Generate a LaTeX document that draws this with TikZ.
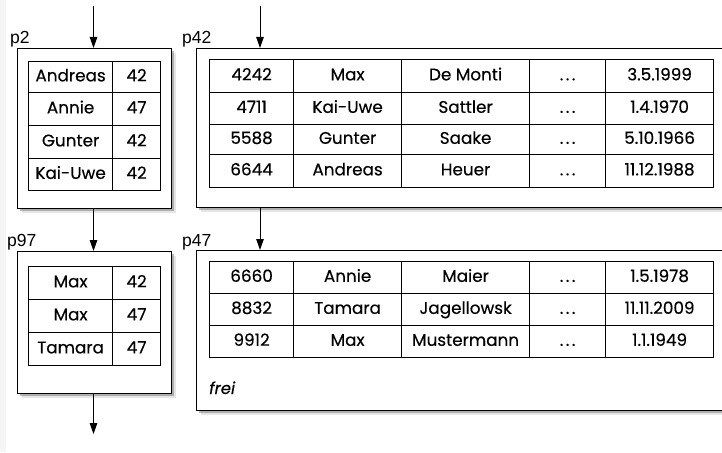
\documentclass[tikz,border=0pt]{standalone}
\usepackage{fontspec}
\setmainfont{Poppins}[FakeBold=0.35]
\newfontfamily\lblfont{Liberation Sans}
\usetikzlibrary{arrows.meta,shadows}
\newcommand\dotsx{.\kern2.5pt.\kern2.5pt.}
\begin{document}
\begin{tikzpicture}[x=1pt,y=-1pt,
  cell/.style={draw, line width=1.2pt, inner sep=0pt, anchor=north west,
    font=\fontsize{16.8}{18}\selectfont, text height=11.5pt, text depth=3pt},
  page/.style={draw, line width=1.4pt, fill=white, inner sep=0pt, anchor=north west,
    drop shadow={shadow xshift=4.5pt, shadow yshift=-4.5pt, opacity=.2},
    drop shadow={shadow xshift=2.5pt, shadow yshift=-2.5pt, opacity=.55}},
  lbl/.style={font=\lblfont\fontsize{17.5}{19}\selectfont, inner sep=0pt, anchor=base west},
  arr/.style={line width=1pt, -{Triangle[length=11pt,width=7.5pt]}}]
\clip (0,0) rectangle (722,452);
\useasboundingbox (0,0) rectangle (722,452);
\fill[white] (0,0) rectangle (722,452);
\fill[black!4] (0,0) rectangle (6,452);

% pages
\node[page, minimum width=154pt, minimum height=160pt] (p2) at (17,48) {};
\node[page, minimum width=154pt, minimum height=142pt] (p97) at (17,251) {};
\node[page, minimum width=560pt, minimum height=159pt] (p42) at (196,48) {};
\node[page, minimum width=560pt, minimum height=160pt] (p47) at (196,250) {};

% labels
\node[lbl] (lp2) at (10,44) {p2};
\node[lbl] (lp97) at (7,246) {p97};
\node[lbl] (lp42) at (182,44) {p42};
\node[lbl] (lp47) at (182,246) {p47};

% p2 table
\foreach \y/\h/\a/\b [count=\i] in {61/31/Andreas/42, 92/33/Annie/47, 125/33/Gunter/42, 158/32/Kai-Uwe/42}{
  \node[cell, minimum width=84pt, minimum height=\h pt] (p2r\i a) at (28,\y) {\a};
  \node[cell, minimum width=48pt, minimum height=\h pt] (p2r\i b) at (112,\y) {\b};
}
% p97 table
\foreach \y/\a/\b [count=\i] in {266/Max/42, 299/Max/47, 332/Tamara/47}{
  \node[cell, minimum width=84pt, minimum height=33pt] (p97r\i a) at (28,\y) {\a};
  \node[cell, minimum width=48pt, minimum height=33pt] (p97r\i b) at (112,\y) {\b};
}
% p42 table
\foreach \y/\h/\a/\b/\c/\e [count=\i] in {59/33/4242/Max/De Monti/3.5.1999, 92/32/4711/Kai-Uwe/Sattler/1.4.1970, 124/30/5588/Gunter/Saake/5.10.1966, 154/33/6644/Andreas/Heuer/11.12.1988}{
  \node[cell, minimum width=84pt, minimum height=\h pt] (p42r\i a) at (209,\y) {\a};
  \node[cell, minimum width=108pt, minimum height=\h pt] (p42r\i b) at (293,\y) {\b};
  \node[cell, minimum width=128pt, minimum height=\h pt] (p42r\i c) at (401,\y) {\c};
  \node[cell, minimum width=76pt, minimum height=\h pt] (p42r\i d) at (529,\y) {\dotsx};
  \node[cell, minimum width=108pt, minimum height=\h pt] (p42r\i e) at (605,\y) {\e};
}
% p47 table
\foreach \y/\a/\b/\c/\e [count=\i] in {261/6660/Annie/Maier/1.5.1978, 293/8832/Tamara/Jagellowsk/11.11.2009, 325/9912/Max/Mustermann/1.1.1949}{
  \node[cell, minimum width=84pt, minimum height=32pt] (p47r\i a) at (209,\y) {\a};
  \node[cell, minimum width=108pt, minimum height=32pt] (p47r\i b) at (293,\y) {\b};
  \node[cell, minimum width=128pt, minimum height=32pt] (p47r\i c) at (401,\y) {\c};
  \node[cell, minimum width=76pt, minimum height=32pt] (p47r\i d) at (529,\y) {\dotsx};
  \node[cell, minimum width=108pt, minimum height=32pt] (p47r\i e) at (605,\y) {\e};
}
\node[font=\fontsize{16.5}{18}\selectfont\itshape, inner sep=0pt, anchor=base west] (frei) at (209,394) {frei};

% arrows
\coordinate (in2) at (93.5,6);
\coordinate (in42) at (260,6);
\coordinate (out97) at (93.5,434);
\draw[arr] (in2) -- (in2 |- p2.north);
\draw[arr] (in2 |- p2.south) -- (in2 |- p97.north);
\draw[arr] (in2 |- p97.south) -- (out97);
\draw[arr] (in42) -- (in42 |- p42.north);
\draw[arr] (in42 |- p42.south) -- (in42 |- p47.north);
\end{tikzpicture}
\end{document}
